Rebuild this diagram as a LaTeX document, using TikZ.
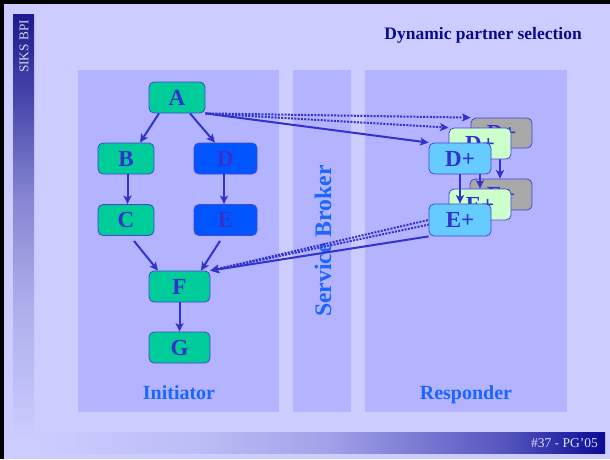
\documentclass[tikz,border=0pt]{standalone}
\usepackage{fontspec}
\setmainfont{Liberation Serif}
\usetikzlibrary{arrows.meta}
\definecolor{bgc}{HTML}{CCCCFF}
\definecolor{panelc}{HTML}{B3B3FF}
\definecolor{navy}{HTML}{0A0A96}
\definecolor{lnavy}{HTML}{1B1B8F}
\definecolor{titlec}{HTML}{0A0A8C}
\definecolor{greenc}{HTML}{00CC99}
\definecolor{bluec}{HTML}{0055FF}
\definecolor{lbluec}{HTML}{66CCFF}
\definecolor{lgreenc}{HTML}{CCFFCC}
\definecolor{grayc}{HTML}{A8A8A8}
\definecolor{linec}{HTML}{3333CC}
\definecolor{borderc}{HTML}{4646D2}
\definecolor{labelc}{HTML}{1A66FF}
\definecolor{footc}{HTML}{E0E0F2}
\definecolor{sidec}{HTML}{D8D8F0}
\pgfdeclarehorizontalshading{footbar}{100bp}{color(0bp)=(bgc); color(25bp)=(bgc); color(39bp)=(bgc!92!navy); color(50.5bp)=(bgc!78!navy); color(66bp)=(bgc!39!navy); color(75bp)=(navy); color(100bp)=(navy)}
\pgfdeclareverticalshading{sidebar}{100bp}{color(0bp)=(bgc); color(25bp)=(bgc); color(29.5bp)=(bgc!95!lnavy); color(41.5bp)=(bgc!82!lnavy); color(53.5bp)=(bgc!60!lnavy); color(65bp)=(bgc!25!lnavy); color(75bp)=(lnavy); color(100bp)=(lnavy)}
\begin{document}
\begin{tikzpicture}[x=1pt,y=-1pt,
  box/.style={draw=borderc, line width=0.8pt, rounded corners=5pt, inner sep=0pt,
    minimum height=31pt, font=\fontsize{23}{23}\selectfont\bfseries, text=linec},
  conn/.style={draw=linec, line width=2pt, -{Stealth[length=8.5pt,width=8pt,inset=2pt]}},
  dotconn/.style={conn, dash pattern=on 2pt off 1.3pt},
  lab/.style={font=\fontsize{20}{20}\selectfont\bfseries, text=labelc}]
\useasboundingbox (0,0) rectangle (610,459);
\fill[bgc] (0,0) rectangle (610,459);
\fill[black] (0,0) rectangle (610,4);
\fill[black] (0,0) rectangle (4,459);
% side bar
\shade[shading=sidebar] (13,14) rectangle (34,440);
\node[rotate=90, text=sidec, font=\fontsize{13.3}{13.3}\selectfont, inner sep=0pt] (side) at (24,46.5) {SIKS BPI};
% footer bar
\shade[shading=footbar] (40,432) rectangle (605,453);
\node[anchor=base east, text=footc, font=\fontsize{13.5}{13.5}\selectfont, inner sep=0pt] (foot) at (598,447) {\#37 - PG’05};
% title
\node[anchor=base east, text=titlec, font=\fontsize{17.5}{17.5}\selectfont\bfseries, inner sep=0pt] (title) at (582,39.3) {Dynamic partner selection};
% panels
\fill[panelc] (78,70) rectangle (279,412);
\fill[panelc] (293,70) rectangle (351,412);
\fill[panelc] (365,70) rectangle (567,412);
\node[lab, anchor=base, inner sep=0pt] (init) at (179,399) {Initiator};
\node[lab, anchor=base, inner sep=0pt] (resp) at (466,399) {Responder};
\node[lab, rotate=90, font=\fontsize{23.7}{23.7}\selectfont\bfseries, inner sep=0pt] (broker) at (323,241) {Service Broker};
% initiator nodes
\node[box, fill=greenc, minimum width=56pt] (A) at (177,97.5) {A};
\node[box, fill=greenc, minimum width=56pt] (B) at (126,158.5) {B};
\node[box, fill=greenc, minimum width=56pt] (C) at (126,220) {C};
\node[box, fill=bluec, minimum width=63pt] (D) at (225.5,158.5) {D};
\node[box, fill=bluec, minimum width=63pt] (E) at (225.5,220) {E};
\node[box, fill=greenc, minimum width=61pt] (F) at (179.5,286.5) {F};
\node[box, fill=greenc, minimum width=61pt] (G) at (179.5,347.5) {G};
\draw[conn] ([xshift=-18pt]A.south) -- ([xshift=14pt]B.north);
\draw[conn] ([xshift=13pt]A.south) -- ([xshift=-10.5pt]D.north);
\draw[conn] ([xshift=1.5pt]B.south) -- ([xshift=1.5pt]C.north);
\draw[conn] ([xshift=-1.5pt]D.south) -- ([xshift=-1.5pt]E.north);
\draw[conn] ([xshift=8pt,yshift=-5pt]C.south) -- ([xshift=-21.5pt]F.north);
\draw[conn] ([xshift=-5.5pt,yshift=-5pt]E.south) -- ([xshift=21.5pt]F.north);
\draw[conn] (F.south) -- (G.north);
% responder: gray layer
\node[box, fill=grayc, minimum width=61pt, minimum height=30pt] (Dx) at (501.5,133) {D+};
\node[box, fill=grayc, minimum width=62pt] (Ex) at (501,194.5) {E+};
\draw[conn] ([xshift=-1.5pt]Dx.south) -- ([xshift=-1pt]Ex.north);
% light green layer
\node[box, fill=lgreenc, minimum width=62pt] (Dg) at (480,143.5) {D+};
\node[box, fill=lgreenc, minimum width=62pt] (Eg) at (480,204.5) {E+};
\draw[conn] (Dg.south) -- (Eg.north);
% dotted lines to F (behind front layer)
\draw[dotconn] (Ex.south west) -- (F.north east);
\draw[dotconn] (Eg.south west) -- (F.north east);
% front layer
\node[box, fill=lbluec, minimum width=62pt] (Dp) at (460,158.5) {D+};
\node[box, fill=lbluec, minimum width=62pt, minimum height=32pt] (Ep) at (460,220) {E+};
\draw[conn] (Dp.south) -- (Ep.north);
% cross connectors
\draw[dotconn] (A.south east) -- (Dx.north west);
\draw[dotconn] (A.south east) -- (Dg.north west);
\draw[conn] (A.south east) -- (Dp.north west);
\draw[conn] (Ep.south west) -- (F.north east);
\end{tikzpicture}
\end{document}
